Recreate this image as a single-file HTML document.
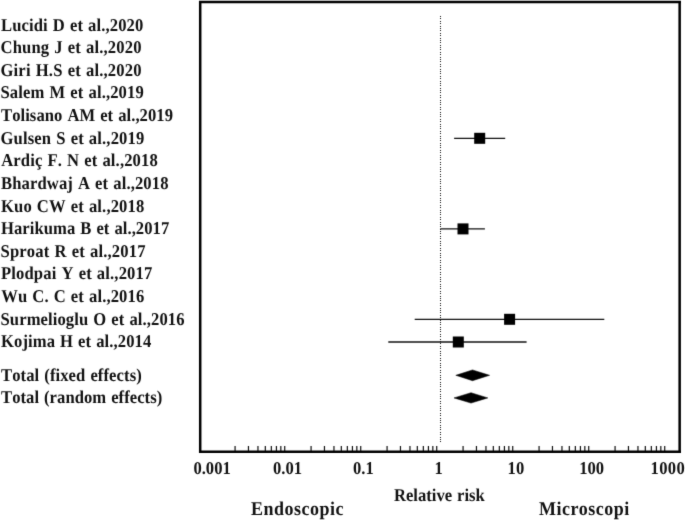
<!DOCTYPE html>
<html lang="en"><head><meta charset="utf-8"><title>Forest plot</title>
<style>html,body{margin:0;padding:0;background:#fff}svg{display:block}text{text-rendering:geometricPrecision;font-kerning:none;font-family:"Liberation Serif",serif;font-weight:bold;fill:#111}text{font-size:18px;word-spacing:.8px}.b{font-size:19.5px}</style></head><body>
<svg width="685" height="520" viewBox="0 0 685 520">
<defs><filter id="soft" x="0" y="0" width="685" height="520" filterUnits="userSpaceOnUse" color-interpolation-filters="sRGB"><feConvolveMatrix order="3" kernelMatrix="0.0113 0.0838 0.0113 0.0838 0.6193 0.0838 0.0113 0.0838 0.0113" edgeMode="duplicate" preserveAlpha="true"/></filter></defs>
<g filter="url(#soft)">
<rect width="685" height="520" fill="#fff"/>
<path d="M200.2 0.8V453.1M199 2.1H681M679.65 0.8V453.1M199 451.85H681" fill="none" stroke="#000" stroke-width="2.5"/>
<line x1="440.5" y1="16" x2="440.5" y2="441.5" stroke="#151515" stroke-width="1.3" stroke-dasharray="1 1.39" shape-rendering="crispEdges"/>
<path d="M235.08 446V451M248.46 446V451M257.96 446V451M265.32 446V451M271.34 446V451M276.43 446V451M280.83 446V451M284.72 446V451M311.08 446V451M324.46 446V451M333.96 446V451M341.32 446V451M347.34 446V451M352.43 446V451M356.83 446V451M360.72 446V451M387.08 446V451M400.46 446V451M409.96 446V451M417.32 446V451M423.34 446V451M428.43 446V451M432.83 446V451M436.72 446V451M463.08 446V451M476.46 446V451M485.96 446V451M493.32 446V451M499.34 446V451M504.43 446V451M508.83 446V451M512.72 446V451M539.08 446V451M552.46 446V451M561.96 446V451M569.32 446V451M575.34 446V451M580.43 446V451M584.83 446V451M588.72 446V451M615.08 446V451M628.46 446V451M637.96 446V451M645.32 446V451M651.34 446V451M656.43 446V451M660.83 446V451M664.72 446V451" stroke="#111" stroke-width="1.2" fill="none"/>
<text id="r0" class="r" transform="translate(1.00 30.6) scale(0.9224 1)" textLength="154.23">Lucidi D et al.,2020</text>
<text id="r1" class="r" transform="translate(0.50 53.2) scale(0.9224 1)" textLength="152.88">Chung J et al.,2020</text>
<text id="r2" class="r" transform="translate(0.50 75.8) scale(0.9224 1)" textLength="152.88">Giri H.S et al.,2020</text>
<text id="r3" class="r" transform="translate(0.50 98.4) scale(0.9224 1)" textLength="155.32">Salem M et al.,2019</text>
<text id="r4" class="r" transform="translate(1.00 121.0) scale(0.9224 1)" textLength="186.48">Tolisano AM et al.,2019</text>
<text id="r5" class="r" transform="translate(0.50 143.7) scale(0.9224 1)" textLength="155.86">Gulsen S et al.,2019</text>
<text id="r6" class="r" transform="translate(1.25 166.3) scale(0.9224 1)" textLength="169.67">Ardiç F. N et al.,2018</text>
<text id="r7" class="r" transform="translate(1.00 188.9) scale(0.9224 1)" textLength="181.60">Bhardwaj A et al.,2018</text>
<text id="r8" class="r" transform="translate(1.00 211.5) scale(0.9224 1)" textLength="155.31">Kuo CW et al.,2018</text>
<text id="r9" class="r" transform="translate(1.00 234.1) scale(0.9224 1)" textLength="182.41">Harikuma B et al.,2017</text>
<text id="r10" class="r" transform="translate(0.50 256.7) scale(0.9224 1)" textLength="157.21">Sproat R et al.,2017</text>
<text id="r11" class="r" transform="translate(1.00 279.3) scale(0.9224 1)" textLength="163.98">Plodpai Y et al.,2017</text>
<text id="r12" class="r" transform="translate(1.25 301.9) scale(0.9224 1)" textLength="155.03">Wu C. C et al.,2016</text>
<text id="r13" class="r" transform="translate(0.50 324.5) scale(0.9224 1)" textLength="199.49">Surmelioglu O et al.,2016</text>
<text id="r14" class="r" transform="translate(1.00 347.1) scale(0.9224 1)" textLength="162.89">Kojima H et al.,2014</text>
<text id="r15" class="r" transform="translate(1.00 380.5) scale(0.9224 1)" textLength="152.60">Total (fixed effects)</text>
<text id="r16" class="r" transform="translate(1.00 402.5) scale(0.9224 1)" textLength="174.82">Total (random effects)</text>
<text id="a0" class="a" transform="translate(193.40 473.6) scale(0.9224 1)" textLength="40.50">0.001</text>
<text id="a1" class="a" transform="translate(273.05 473.6) scale(0.9224 1)" textLength="31.50">0.01</text>
<text id="a2" class="a" transform="translate(353.03 473.6) scale(0.9224 1)" textLength="22.50">0.1</text>
<text id="a3" class="a" transform="translate(434.62 473.6) scale(0.9224 1)" textLength="9.00">1</text>
<text id="a4" class="a" transform="translate(507.60 473.6) scale(0.9224 1)" textLength="18.00">10</text>
<text id="a5" class="a" transform="translate(579.13 473.6) scale(0.9224 1)" textLength="27.00">100</text>
<text id="a6" class="a" transform="translate(650.45 473.6) scale(0.9224 1)" textLength="37.30">1000</text>
<text id="rel" class="a" transform="translate(394.00 500.9) scale(0.9224 1)" textLength="98.39">Relative risk</text>
<text id="endo" class="b" transform="translate(251.00 514.7) scale(0.9224 1)" textLength="100.29">Endoscopic</text>
<text id="micro" class="b" transform="translate(539.00 514.7) scale(0.9224 1)" textLength="97.85">Microscopi</text>
<line x1="454.1" y1="138.3" x2="505.2" y2="138.3" stroke="#111" stroke-width="1.35"/>
<rect x="474.2" y="132.8" width="11" height="11" fill="#000"/>
<line x1="440.2" y1="228.9" x2="484.9" y2="228.9" stroke="#111" stroke-width="1.35"/>
<rect x="457.5" y="223.4" width="11" height="11" fill="#000"/>
<line x1="414.7" y1="319.3" x2="604.3" y2="319.3" stroke="#111" stroke-width="1.35"/>
<rect x="504.1" y="313.8" width="11" height="11" fill="#000"/>
<line x1="388.3" y1="342" x2="526.6" y2="342" stroke="#111" stroke-width="1.35"/>
<rect x="452.8" y="336.5" width="11" height="11" fill="#000"/>
<polygon points="455.8,375.3 472.5,369.9 489.6,375.3 472.5,380.7" fill="#000" stroke="#000" stroke-width=".5"/>
<polygon points="454,397.9 471,392.7 487.8,397.9 471,403.1" fill="#000" stroke="#000" stroke-width=".5"/>
</g>
</svg></body></html>
